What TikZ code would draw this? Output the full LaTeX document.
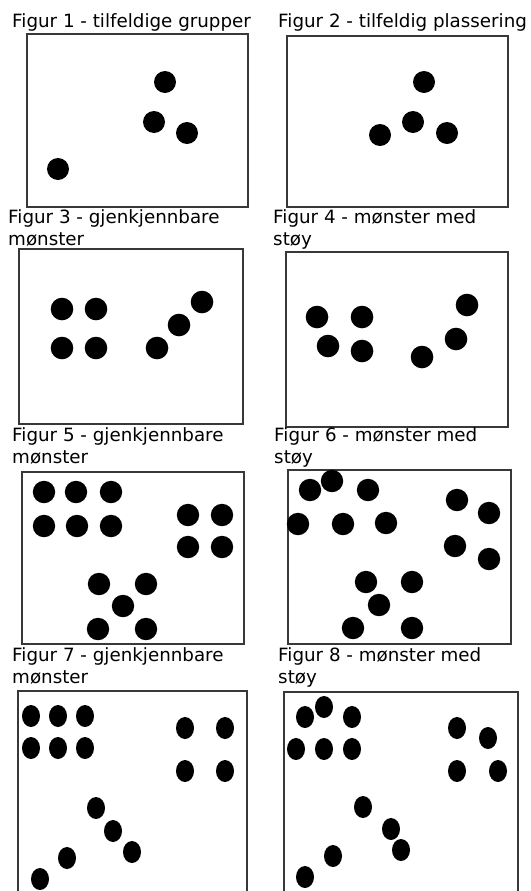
\documentclass[tikz,border=0pt]{standalone}
\usepackage{fontspec}
\setmainfont{DejaVu Sans}
\begin{document}
\begin{tikzpicture}[x=0.03cm, y=-0.03cm,
    caption/.style={anchor=base west, inner sep=0pt, align=left, font=\fontsize{15.6}{18.7}\selectfont},
    panel/.style={draw=black!78, line width=1.4pt},
    dot/.style={fill=black}]

    \useasboundingbox (0,0) rectangle (531,891);

    % Figur 1 and 2
    \node[caption] (cap1) at (12,27) {Figur 1 - tilfeldige grupper};
    \node[caption] (cap2) at (278,27) {Figur 2 - tilfeldig plassering};
    \draw[panel] (27,34) rectangle (248,207);
    \draw[panel] (287,36) rectangle (508,207);

    \foreach \x/\y in {165/82, 154/122, 187/133, 58/169}
        \fill[dot] (\x,\y) circle (11);
    \foreach \x/\y in {424/82, 413/122, 380/135, 447/133}
        \fill[dot] (\x,\y) circle (11);

    % Figur 3 and 4 (base = last line)
    \node[caption] (cap3) at (8,245) {Figur 3 - gjenkjennbare\\mønster};
    \node[caption] (cap4) at (273,245) {Figur 4 - mønster med\\støy};
    \draw[panel] (19,249) rectangle (243,424);
    \draw[panel] (286,252) rectangle (508,427);

    \foreach \x/\y in {62/309, 96/309, 62/348, 96/348, 157/348, 179/325, 202/302}
        \fill[dot] (\x,\y) circle (11.3);
    \foreach \x/\y in {317/317, 362/317, 328/346, 362/351, 422/357, 456/339, 467/305}
        \fill[dot] (\x,\y) circle (11.3);

    % Figur 5 and 6
    \node[caption] (cap5) at (12,463) {Figur 5 - gjenkjennbare\\mønster};
    \node[caption] (cap6) at (274,463) {Figur 6 - mønster med\\støy};
    \draw[panel] (22,472) rectangle (244,644);
    \draw[panel] (288,470) rectangle (511,644);

    \foreach \x/\y in {44/492, 76/492, 111/492, 44/526, 77/526, 111/526,
                       188/515, 222/515, 188/547, 222/547,
                       99/584, 146/584, 123/606, 98/629, 146/629}
        \fill[dot] (\x,\y) circle (11.2);
    \foreach \x/\y in {310/490, 332/481, 368/490, 298/524, 343/524, 386/523,
                       457/500, 489/513, 455/546, 489/559,
                       366/582, 412/582, 379/605, 353/628, 412/628}
        \fill[dot] (\x,\y) circle (11.2);

    % Figur 7 and 8 (boxes run off the bottom)
    \node[caption] (cap7) at (12,683) {Figur 7 - gjenkjennbare\\mønster};
    \node[caption] (cap8) at (278,683) {Figur 8 - mønster med\\støy};
    \draw[panel] (18,895) -- (18,691) -- (247,691) -- (247,895);
    \draw[panel] (284,895) -- (284,692) -- (518,692) -- (518,895);

    \foreach \x/\y in {31/716, 58/716, 85/716, 31/748, 58/748, 85/748,
                       185/728, 225/728, 185/771, 225/771,
                       96/808, 113/831, 132/852, 67/858, 40/879}
        \fill[dot] (\x,\y) ellipse [x radius=9, y radius=11];
    \foreach \x/\y in {305/717, 324/707, 352/717, 296/749, 324/749, 352/749,
                       457/728, 488/738, 457/771, 498/771,
                       363/807, 391/829, 401/850, 333/856, 305/877}
        \fill[dot] (\x,\y) ellipse [x radius=9, y radius=11];

\end{tikzpicture}
\end{document}
